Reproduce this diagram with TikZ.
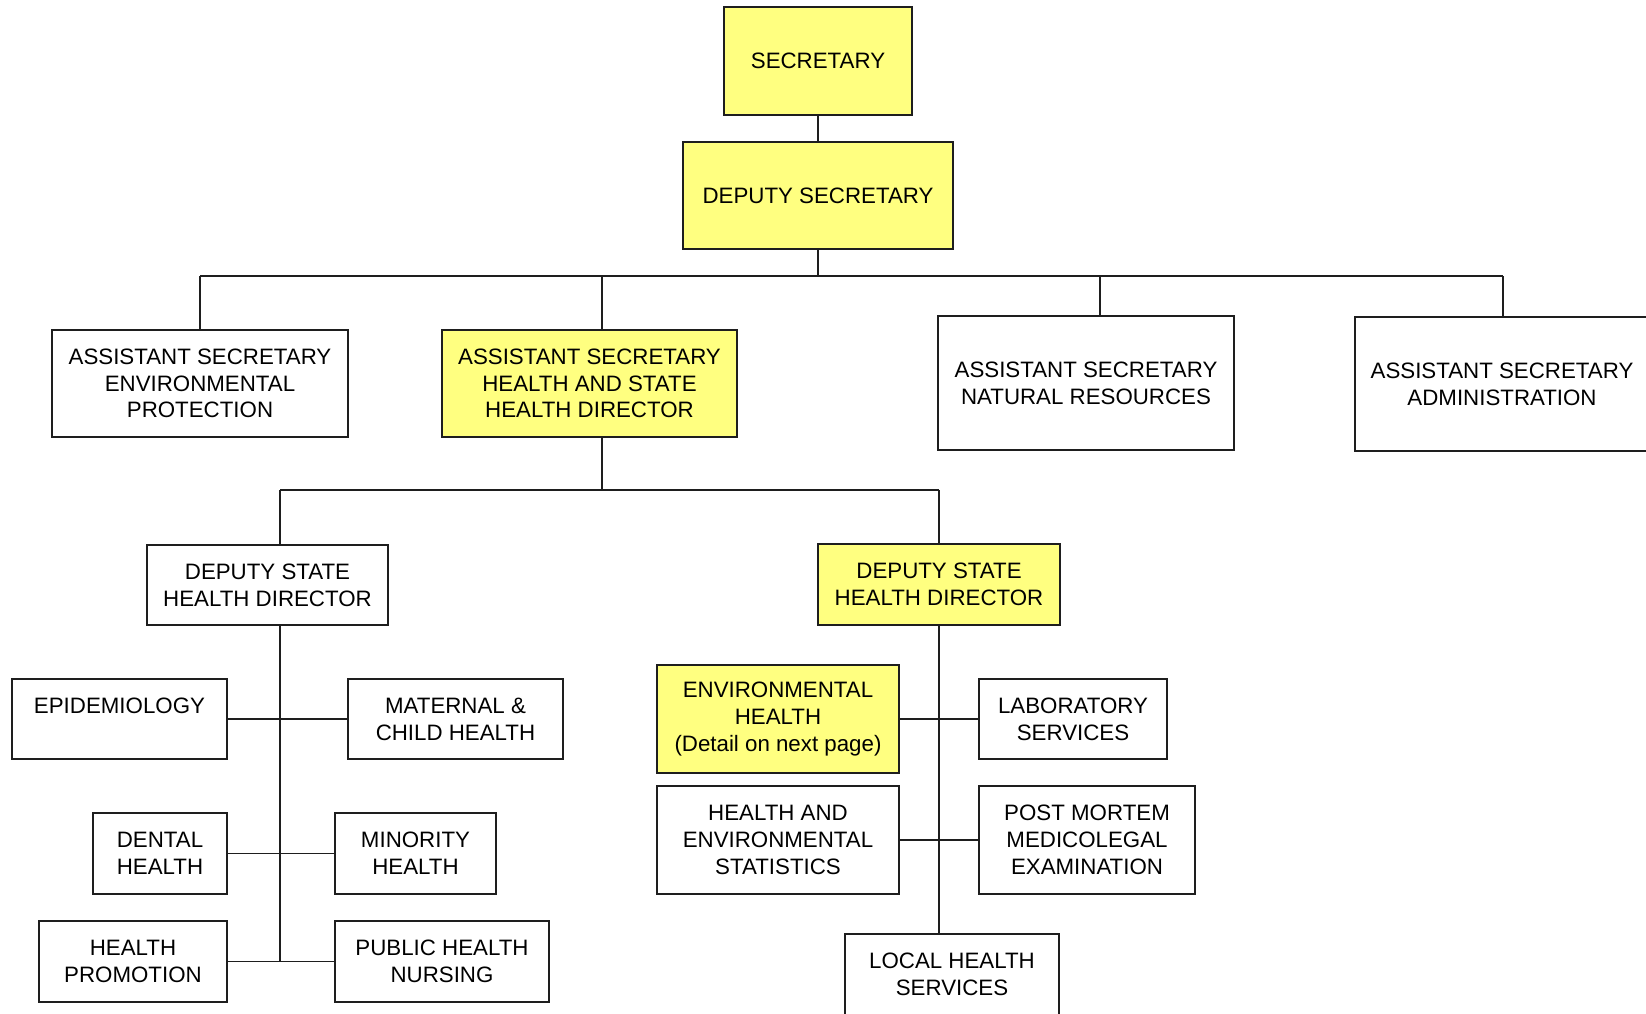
\documentclass[tikz,border=0pt]{standalone}
\usepackage{fontspec}
\setmainfont{Liberation Sans}
\definecolor{boxyellow}{RGB}{255,255,128}
\definecolor{ink}{RGB}{30,30,30}
\begin{document}
\begin{tikzpicture}[x=1pt,y=-1pt,
  unit/.style={draw=ink, line width=1.3pt, fill=white, inner sep=0pt, align=center,
    font=\fontsize{22.3}{26.8}\selectfont, text=black},
  hilite/.style={unit, fill=boxyellow},
  link/.style={draw=ink, line width=1.3pt}]
\useasboundingbox (0,0) rectangle (1646,1013);

% top of the organisation
\node[hilite, minimum width=188pt, minimum height=108pt] (sec) at (818,61) {SECRETARY};
\node[hilite, minimum width=270pt, minimum height=107pt] (dep) at (818,195.5) {DEPUTY SECRETARY};

% assistant secretaries
\node[unit, minimum width=296pt, minimum height=107pt] (aep) at (200,383.5) {ASSISTANT SECRETARY\\ENVIRONMENTAL\\PROTECTION};
\node[hilite, minimum width=295pt, minimum height=107pt] (ashd) at (589.5,383.5) {ASSISTANT SECRETARY\\HEALTH AND STATE\\HEALTH DIRECTOR};
\node[unit, minimum width=296pt, minimum height=134pt] (anr) at (1086,383) {ASSISTANT SECRETARY\\NATURAL RESOURCES};
\node[unit, minimum width=294pt, minimum height=134pt] (aadm) at (1502,384) {ASSISTANT SECRETARY\\ADMINISTRATION};

% deputy state health directors
\node[unit, minimum width=241pt, minimum height=80pt] (dshdL) at (267.5,585) {DEPUTY STATE\\HEALTH DIRECTOR};
\node[hilite, minimum width=242pt, minimum height=81pt] (dshdR) at (939,584.5) {DEPUTY STATE\\HEALTH DIRECTOR};

% left branch
\node[unit, minimum width=215pt, minimum height=80pt] (epi) at (119.5,719) {EPIDEMIOLOGY\\\mbox{}};
\node[unit, minimum width=215pt, minimum height=80pt] (mat) at (455.5,719) {MATERNAL \&\\CHILD HEALTH};
\node[unit, minimum width=134pt, minimum height=81pt] (den) at (160,853.5) {DENTAL\\HEALTH};
\node[unit, minimum width=161pt, minimum height=81pt] (mino) at (415.5,853.5) {MINORITY\\HEALTH};
\node[unit, minimum width=188pt, minimum height=81pt] (hp) at (133,961.5) {HEALTH\\PROMOTION};
\node[unit, minimum width=214pt, minimum height=81pt] (phn) at (442,961.5) {PUBLIC HEALTH\\NURSING};

% right branch
\node[hilite, minimum width=242pt, minimum height=108pt] (env) at (778,719) {ENVIRONMENTAL\\HEALTH\\(Detail on next page)};
\node[unit, minimum width=188pt, minimum height=80pt] (lab) at (1073,719) {LABORATORY\\SERVICES};
\node[unit, minimum width=242pt, minimum height=108pt] (stat) at (778,840) {HEALTH AND\\ENVIRONMENTAL\\STATISTICS};
\node[unit, minimum width=216pt, minimum height=108pt] (pm) at (1087,840) {POST MORTEM\\MEDICOLEGAL\\EXAMINATION};
\node[unit, minimum width=214pt, minimum height=96pt] (loc) at (952,982) {LOCAL HEALTH\\SERVICES\\[-10.8pt]\mbox{}};

% connectors, top levels
\coordinate (bus) at (818,276);
\coordinate (busR) at (1503,276);
\coordinate (d2) at (602,276);
\coordinate (d3) at (1100,276);
\draw[link] (sec.south) -- (dep.north);
\draw[link] (dep.south) -- (bus);
\draw[link] (aep.north |- bus) -- (busR);
\draw[link] (aep.north |- bus) -- (aep.north);
\draw[link] (d2) -- (d2 |- ashd.north);
\draw[link] (d3) -- (d3 |- anr.north);
\draw[link] (busR) -- (busR |- aadm.north);

% connectors under the health director
\coordinate (t2) at (602,490);
\coordinate (tL) at (280,490);
\draw[link] (t2 |- ashd.south) -- (t2);
\draw[link] (tL) -- (dshdR.north |- t2);
\draw[link] (tL) -- (tL |- dshdL.north);
\draw[link] (dshdR.north |- t2) -- (dshdR.north);

% left branch spine
\coordinate (kL) at (280,961.5);
\draw[link] (kL |- dshdL.south) -- (kL);
\draw[link] (epi.east) -- (mat.west);
\draw[link] (den.east) -- (mino.west);
\draw[link] (hp.east) -- (phn.west);

% right branch spine
\draw[link] (dshdR.south) -- (dshdR.south |- loc.north);
\draw[link] (env.east) -- (lab.west);
\draw[link] (stat.east) -- (pm.west);
\end{tikzpicture}
\end{document}
